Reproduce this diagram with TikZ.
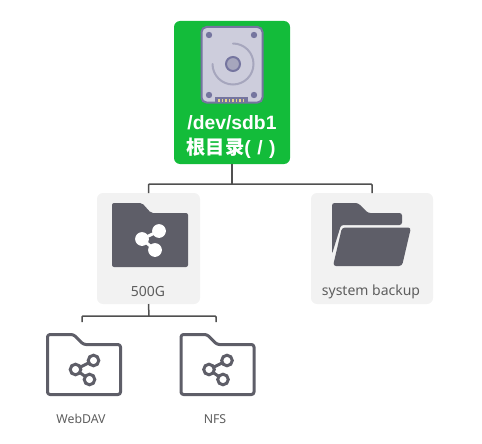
\documentclass[tikz,border=0pt]{standalone}
\usepackage{fontspec}
\setmainfont{Noto Sans}
\newfontfamily\rootlat{Liberation Sans}
\newfontfamily\cjk{Noto Sans CJK SC}
\definecolor{rootgreen}{HTML}{13BC3A}
\definecolor{tile}{HTML}{F2F2F2}
\definecolor{icon}{HTML}{5E5E68}
\definecolor{wire}{HTML}{505050}
\definecolor{lab}{HTML}{5E5E5E}
\definecolor{hddbody}{HTML}{CDCDDC}
\definecolor{hddline}{HTML}{75759F}
\definecolor{hdddisk}{HTML}{A6A6BD}
\definecolor{hddgold}{HTML}{E8D48A}
\tikzset{
  tilebox/.style={rectangle,fill=tile,rounded corners=6pt,inner sep=0pt,outer sep=0pt},
  rootbox/.style={rectangle,fill=rootgreen,rounded corners=6pt,inner sep=0pt,outer sep=0pt,minimum width=116pt,minimum height=143pt},
  wired/.style={draw=wire,line width=1.5pt,rounded corners=1pt},
  roottext/.style={text=white,inner sep=0pt,font=\rootlat\bfseries\fontsize{19.3}{22}\selectfont},
  tilelabel/.style={text=lab,inner sep=0pt,font=\fontsize{14}{16}\selectfont},
  smalllabel/.style={text=lab,inner sep=0pt,font=\fontsize{12.3}{14}\selectfont},
  sharesolid/.pic={
    \draw[white,line width=3pt] (159,231)--(142,239)--(155,250);
    \fill[white] (159,231) circle (6.9) (142,239) circle (6.9) (155,250) circle (6.9);
  },
  outfolder/.pic={
    \draw[icon,line width=3pt,line join=round,rounded corners=2.5pt]
      (0,0) -- (26,0) -- (36,10) -- (73,10) -- (73,60) -- (0,60) -- cycle;
    \draw[icon,line width=3pt] (46,26)--(28,35)--(42,45);
    \draw[icon,line width=3pt,fill=white] (46,26) circle (5.3) (28,35) circle (5.3) (42,45) circle (5.3);
  },
}
\begin{document}
\begin{tikzpicture}[x=1pt,y=-1pt]
\useasboundingbox (0,0) rectangle (482,444);
% boxes
\node[rootbox] (root) at (232,92.5) {};
\node[tilebox,minimum width=103pt,minimum height=111pt] (share) at (148.5,248.5) {};
\node[tilebox,minimum width=122pt,minimum height=111pt] (backup) at (372,248.5) {};
% connectors
\coordinate (busa) at (232,184);
\coordinate (busb) at (149,316);
\coordinate (webtop) at (82,322);
\coordinate (nfstop) at (216,322);
\draw[wired] (root.south) -- (busa);
\draw[wired] (share.north) |- (busa) -| (backup.north);
\draw[wired] (share.south) -- (busb);
\draw[wired] (webtop) |- (busb) -| (nfstop);
% hard disk
\fill[hddbody,draw=hddline,line width=2pt,rounded corners=5pt] (201.5,27) rectangle (262.5,102.5);
\fill[hddline] (214.5,103) -- (214.5,96.5) -- (248,96.5) -- (248,103) -- cycle;
\foreach \q in {218,221.5,...,245}{\fill[hddgold] (\q,99) rectangle ++(1.9,3);}
\fill[hddline] (209,35) circle (3.2) (254,35) circle (3.2) (209,95) circle (3.2) (254,95) circle (3.2);
\draw[hdddisk,line width=2pt,line cap=round] (233,43.5) arc[start angle=90,end angle=-180,x radius=20.5,y radius=-20.5];
\draw[hddline,fill=hdddisk,line width=2pt] (233,64) circle (7);
% root text
\node[roottext] (rootname) at (232,123) {/dev/sdb1};
\node[roottext] (rootdir) at (231,148) {{\cjk\bfseries 根目录}(\,\,/\,\,)};
% solid share folder
\fill[icon,rounded corners=2pt] (112,203) -- (142,203) -- (151,213) -- (188,213) -- (188,267) -- (112,267) -- cycle;
\pic at (0,0) {sharesolid};
% open folder
\fill[icon,rounded corners=2.5pt] (332,203) -- (358,203) -- (368,213) -- (402,213) -- (402,225) -- (341,225) -- (332,254) -- cycle;
\fill[icon,rounded corners=3pt] (342,227.5) -- (411,227.5) -- (402,266) -- (333,266) -- cycle;
% outlined folders
\pic at (47.5,334.5) {outfolder};
\pic at (181,334.5) {outfolder};
% labels
\node[tilelabel] (sharename) at (148,291) {500G};
\node[tilelabel] (backupname) at (371,292) {system backup};
\node[smalllabel] (webname) at (81,419) {WebDAV};
\node[smalllabel] (nfsname) at (215,419) {NFS};
\end{tikzpicture}
\end{document}
